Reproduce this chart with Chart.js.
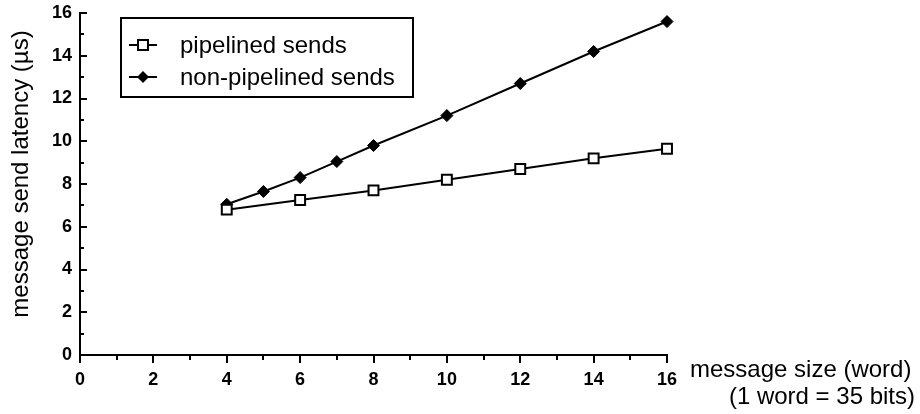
<!DOCTYPE html>
<html>
<head>
<meta charset="utf-8">
<script src="https://cdn.jsdelivr.net/npm/chart.js@4/dist/chart.umd.min.js"></script>
<style>
  html, body { margin: 0; padding: 0; background: #fff; }
  #wrap { width: 920px; height: 414px; position: relative; }
</style>
</head>
<body>
<div id="wrap"><canvas id="chart" width="920" height="414"></canvas></div>
<script>
// values
const pipelinedSizes = [4, 6, 8, 10, 12, 14, 16];
const pipelinedLatency = [6.8, 7.25, 7.7, 8.2, 8.7, 9.2, 9.65];
const nonPipelinedSizes = [4, 5, 6, 7, 8, 10, 12, 14, 16];
const nonPipelinedLatency = [7.05, 7.65, 8.3, 9.05, 9.8, 11.2, 12.7, 14.2, 15.6];

const seriesNames = ['pipelined sends', 'non-pipelined sends'];
const yTitle = 'message send latency (\u00b5s)';
const xTitleLines = ['message size (word)', '(1 word = 35 bits)'];

const FONT = '"Liberation Sans", Arial, Helvetica, sans-serif';

const toPoints = (xs, ys) => xs.map((x, i) => ({ x: x, y: ys[i] }));

// small inward / downward tick marks, long on even values and short on odd ones
const tickMarks = {
  id: 'tickMarks',
  afterDraw(chart) {
    const { ctx, scales: { x, y }, chartArea } = chart;
    ctx.save();
    ctx.strokeStyle = '#000';
    ctx.lineWidth = 2;
    for (let v = 0; v <= 16; v++) {
      const major = v % 2 === 0;
      const py = Math.round(y.getPixelForValue(v));
      ctx.beginPath();
      ctx.moveTo(chartArea.left, py);
      ctx.lineTo(chartArea.left + (major ? 7 : 4), py);
      ctx.stroke();
      const px = Math.round(x.getPixelForValue(v));
      ctx.beginPath();
      ctx.moveTo(px, chartArea.bottom);
      ctx.lineTo(px, chartArea.bottom + (major ? 8 : 5));
      ctx.stroke();
    }
    ctx.restore();
  }
};

// axis titles placed like the original figure
const axisTitles = {
  id: 'axisTitles',
  afterDraw(chart) {
    const { ctx, chartArea } = chart;
    ctx.save();
    ctx.fillStyle = '#000';
    ctx.font = '24px ' + FONT;
    ctx.textBaseline = 'alphabetic';
    ctx.textAlign = 'left';
    ctx.fillText(xTitleLines[0], chartArea.right + 23, chartArea.bottom + 22);
    ctx.textAlign = 'right';
    ctx.fillText(xTitleLines[1], 915, chartArea.bottom + 49);

    ctx.translate(28, 174);
    ctx.rotate(-Math.PI / 2);
    ctx.textAlign = 'center';
    ctx.fillText(yTitle, 0, 0);
    ctx.restore();
  }
};

// boxed legend inside the plot
const boxLegend = {
  id: 'boxLegend',
  afterDraw(chart) {
    const { ctx, chartArea } = chart;
    const left = chartArea.left + 41, top = chartArea.top + 5;
    const w = 292, h = 79;
    ctx.save();
    ctx.strokeStyle = '#000';
    ctx.lineWidth = 2;
    ctx.strokeRect(left, top, w, h);

    chart.data.datasets.forEach((ds, i) => {
      const cy = top + 27 + i * 32;
      const cx = left + 22;
      ctx.beginPath();
      ctx.moveTo(left + 8, cy);
      ctx.lineTo(left + 36, cy);
      ctx.lineWidth = 2;
      ctx.strokeStyle = '#000';
      ctx.stroke();
      ctx.beginPath();
      if (ds.pointStyle === 'rect') {
        ctx.rect(cx - 5, cy - 5, 10, 10);
        ctx.fillStyle = '#fff';
        ctx.fill();
        ctx.stroke();
      } else {
        const r = 6;
        ctx.moveTo(cx, cy - r);
        ctx.lineTo(cx + r, cy);
        ctx.lineTo(cx, cy + r);
        ctx.lineTo(cx - r, cy);
        ctx.closePath();
        ctx.fillStyle = '#000';
        ctx.fill();
      }
      ctx.fillStyle = '#000';
      ctx.font = '24px ' + FONT;
      ctx.textAlign = 'left';
      ctx.textBaseline = 'middle';
      ctx.fillText(ds.label, left + 59, cy + 1);
    });
    ctx.restore();
  }
};

const ctx = document.getElementById('chart').getContext('2d');
new Chart(ctx, {
  type: 'line',
  data: {
    datasets: [
      {
        label: seriesNames[0],
        data: toPoints(pipelinedSizes, pipelinedLatency),
        borderColor: '#000',
        borderWidth: 2,
        pointStyle: 'rect',
        pointRadius: 7,
        pointBorderWidth: 2,
        pointBackgroundColor: '#fff',
        pointBorderColor: '#000',
        tension: 0,
        clip: false
      },
      {
        label: seriesNames[1],
        data: toPoints(nonPipelinedSizes, nonPipelinedLatency),
        borderColor: '#000',
        borderWidth: 2,
        pointStyle: 'rectRot',
        pointRadius: 6,
        pointBorderWidth: 1,
        pointBackgroundColor: '#000',
        pointBorderColor: '#000',
        tension: 0,
        clip: false
      }
    ]
  },
  options: {
    responsive: false,
    animation: false,
    layout: { padding: { left: 0, right: 253, top: 13, bottom: 0 } },
    scales: {
      x: {
        type: 'linear',
        min: 0,
        max: 16,
        afterFit: (scale) => {
          scale.height = 59;
          scale.paddingLeft = 0;
          scale.paddingRight = 0;
        },
        grid: { display: false, drawTicks: false },
        border: { display: true, color: '#000', width: 2 },
        ticks: {
          stepSize: 2,
          padding: 14,
          color: '#000',
          maxRotation: 0,
          font: { family: FONT, size: 18, weight: 'bold' }
        }
      },
      y: {
        min: 0,
        max: 16,
        afterFit: (scale) => {
          scale.width = 80;
          scale.paddingTop = 0;
          scale.paddingBottom = 0;
        },
        grid: { display: false, drawTicks: false },
        border: { display: true, color: '#000', width: 2 },
        ticks: {
          stepSize: 2,
          padding: 8,
          color: '#000',
          font: { family: FONT, size: 18, weight: 'bold' }
        }
      }
    },
    plugins: {
      legend: { display: false },
      tooltip: { enabled: false }
    }
  },
  plugins: [tickMarks, axisTitles, boxLegend]
});
</script>
</body>
</html>
